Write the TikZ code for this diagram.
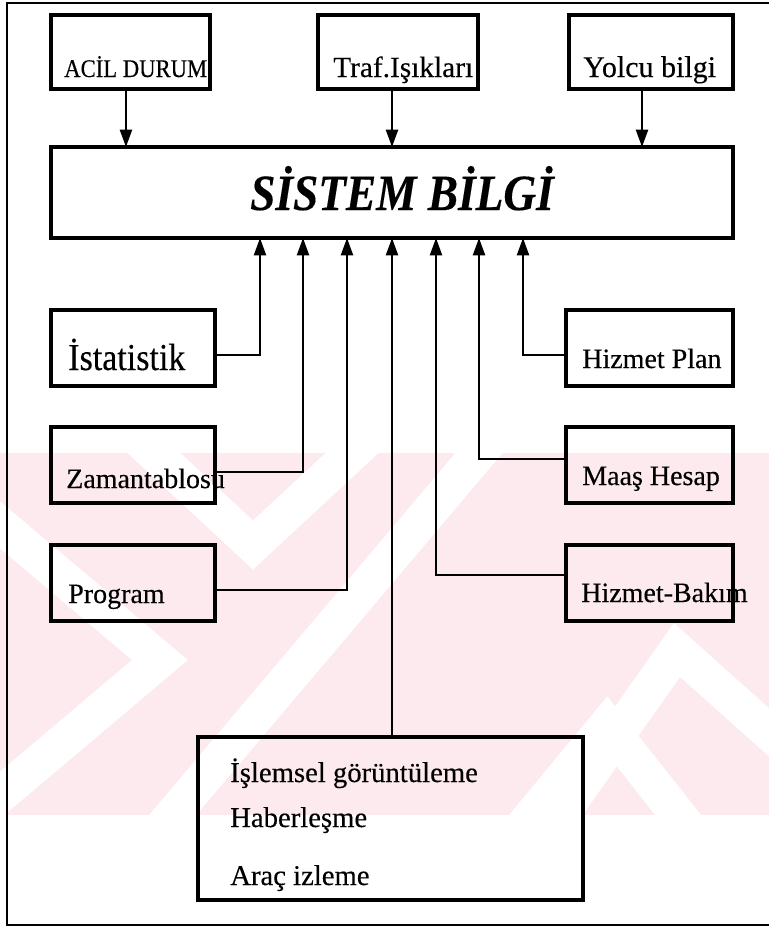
\documentclass[tikz,border=0pt]{standalone}
\usepackage{fontspec}
\setmainfont{Liberation Serif}[FakeBold=0.3]
\usetikzlibrary{arrows.meta}
\definecolor{wmpink}{RGB}{252,234,238}
\begin{document}
\begin{tikzpicture}[x=0.75pt,y=-0.75pt,
  box/.style={draw, line width=3pt, inner sep=0pt, outer sep=0pt, anchor=north west},
  lbl/.style={inner sep=0pt, anchor=base west, font=\fontsize{21}{21}\selectfont},
  conn/.style={line width=1.7pt},
  arr/.style={line width=1.7pt, -{Triangle[length=13pt,width=9pt]}},
  band/.style={white, line width=27pt},
]
\useasboundingbox (0,0) rectangle (769,928);

% faint background stripes
\fill[wmpink] (0,453) rectangle (769,815);
\begin{scope}
  \clip (0,453) rectangle (769,815);
  \draw[band] (-20,508) -- (160,660) -- (-20,812);
  \draw[band] (140,440) -- (253,545) -- (366,440);
  \draw[band] (160,830) -- (490,440);
  \draw[band] (550,830) -- (677,650) -- (800,760);
  \draw[band] (520,830) -- (607,725) -- (690,830);
\end{scope}

% outer frame
\draw[line width=1.5pt] (769,3) -- (7,3) -- (7,925) -- (769,925);

% top boxes
\node[box, minimum width=119.25pt, minimum height=55.5pt] (acil) at (51,15) {};
\node[box, minimum width=120pt, minimum height=55.5pt] (traf) at (318,15) {};
\node[box, minimum width=123pt, minimum height=55.5pt] (yolcu) at (569,15) {};
\node[lbl, font=\fontsize{17}{17}\selectfont] (tacil) at (64,77) {\scalebox{1}[1.12]{ACİL DURUM}};
\node[lbl, font=\fontsize{22}{22}\selectfont] (ttraf) at (333,77) {Traf.Işıkları};
\node[lbl, font=\fontsize{22.5}{22.5}\selectfont] (tyolcu) at (583,77) {Yolcu bilgi};

% central box
\node[box, minimum width=511.5pt, minimum height=68.25pt] (sis) at (51,147) {};
\node[inner sep=0pt, anchor=base, font=\fontsize{34}{34}\selectfont\bfseries\itshape] (tsis) at (402,210) {\scalebox{1}[1.12]{SİSTEM BİLGİ}};

% left boxes
\node[box, minimum width=123pt, minimum height=57pt] (ist) at (51,310) {};
\node[box, minimum width=123pt, minimum height=57pt] (zam) at (51,427) {};
\node[box, minimum width=123pt, minimum height=57pt] (prog) at (51,545) {};
\node[lbl, font=\fontsize{25.5}{25.5}\selectfont] (tist) at (68,370) {\scalebox{1}[1.12]{İstatistik}};
\node[lbl] (tzam) at (66,488) {Zamantablosu};
\node[lbl] (tprog) at (68,603) {Program};

% right boxes
\node[box, minimum width=125.25pt, minimum height=57pt] (plan) at (566,310) {};
\node[box, minimum width=125.25pt, minimum height=57pt] (maas) at (566,427) {};
\node[box, minimum width=125.25pt, minimum height=57pt] (bakim) at (566,545) {};
\node[lbl] (tplan) at (582,368) {Hizmet Plan};
\node[lbl] (tmaas) at (582,485) {Maaş Hesap};
\node[lbl] (tbakim) at (581,602) {Hizmet-Bakım};

% bottom box
\node[box, minimum width=288.75pt, minimum height=122.25pt] (ops) at (198,737) {};
\node[lbl, font=\fontsize{21.5}{21.5}\selectfont] (tops1) at (230,782) {İşlemsel görüntüleme};
\node[lbl, font=\fontsize{21.5}{21.5}\selectfont] (tops2) at (230,827) {Haberleşme};
\node[lbl, font=\fontsize{21.5}{21.5}\selectfont] (tops3) at (230,885) {Araç izleme};

% inputs from the top
\draw[arr] ([xshift=-3.4pt]acil.south) -- ([xshift=-3.4pt]acil.south |- sis.north);
\draw[arr] ([xshift=-4.5pt]traf.south) -- ([xshift=-4.5pt]traf.south |- sis.north);
\draw[arr] ([xshift=-6.75pt]yolcu.south) -- ([xshift=-6.75pt]yolcu.south |- sis.north);

% inputs from below
\draw[arr] ([yshift=-5.25pt]ist.east) -| ([xshift=-99pt]sis.south);
\draw[arr] ([yshift=-5.25pt]zam.east) -| ([xshift=-66.75pt]sis.south);
\draw[arr] ([yshift=-5.25pt]prog.east) -| ([xshift=-33.75pt]sis.south);
\draw[arr] (ops.north -| sis.south) -- (sis.south);
\draw[arr] ([yshift=6pt]bakim.west) -| ([xshift=33pt]sis.south);
\draw[arr] ([yshift=4.5pt]maas.west) -| ([xshift=65.25pt]sis.south);
\draw[arr] ([yshift=-5.25pt]plan.west) -| ([xshift=98.25pt]sis.south);
\end{tikzpicture}
\end{document}
